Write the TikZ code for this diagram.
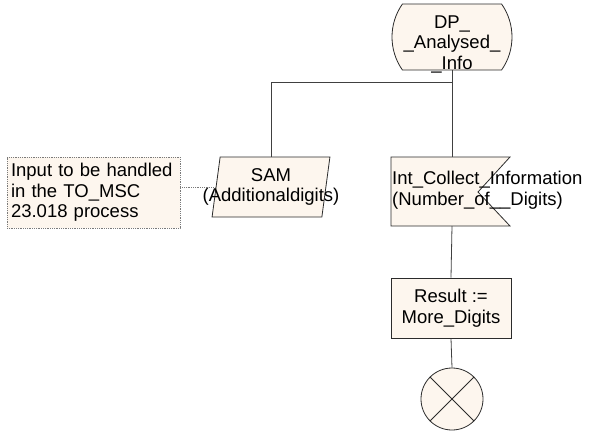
\documentclass[tikz,border=0pt]{standalone}
\usepackage{fontspec}
\setmainfont{Liberation Sans}
\usetikzlibrary{positioning,shapes.geometric,shapes.misc,calc}
\definecolor{cream}{HTML}{FDF6EE}
\definecolor{ink}{HTML}{2B2B2B}
\definecolor{wire}{HTML}{404040}
\definecolor{muted}{HTML}{7A7A7A}
\tikzset{
  sdltext/.style={font=\fontsize{18.5}{20.5}\selectfont,align=center,inner sep=0pt},
  statebox/.style={rounded rectangle,rounded rectangle arc length=70,draw=ink,line width=0.8pt,fill=cream,minimum width=120pt,minimum height=66pt,inner sep=0pt},
  inputbox/.style={trapezium,trapezium left angle=78,trapezium right angle=102,trapezium stretches=true,draw=ink,line width=0.8pt,fill=cream,minimum width=118pt,minimum height=60pt,inner sep=0pt,text width=100pt,sdltext},
  sigshape/.style={draw=ink,line width=0.8pt,fill=cream},
  taskbox/.style={rectangle,draw=ink,line width=0.8pt,fill=cream,minimum width=120pt,minimum height=60pt,inner sep=0pt,sdltext},
  notebox/.style={rectangle,draw=muted,densely dotted,line width=0.8pt,fill=cream,minimum width=173pt,minimum height=71pt,inner xsep=4pt,text width=165pt,font=\fontsize{18.5}{20.5}\selectfont,align=left},
  stopbox/.style={circle,draw=ink,line width=0.8pt,fill=cream,minimum size=62pt,inner sep=0pt},
  wire/.style={draw=wire,line width=0.8pt},
  noteline/.style={draw=muted,densely dotted,line width=0.8pt}
}
\begin{document}
\begin{tikzpicture}[x=1pt,y=-1pt]
  \useasboundingbox (0,0) rectangle (590,432);
  % state
  \node[statebox] (state) at (452,37) {};
  \node[sdltext] (statelbl) at (452,44) {DP\_\\\_Analysed\_\\\_Info};
  \coordinate (fork) at (452,82);
  % inputs
  \node[inputbox] (sam) at (271,187) {SAM\\\makebox[100pt]{(Additionaldigits)}};
  \draw[sigshape] (391,157) -- (510,157) -- (478,192) -- (510,226) -- (391,226) -- cycle;
  \node[sdltext,align=left,anchor=west] (sig) at (392,190) {Int\_Collect\_Information\\(Number\_of\_\_Digits)};
  \coordinate (sigin) at (452,157);
  \coordinate (sigout) at (452,226);
  \node[notebox] (note) at (93.5,192.5) {Input to be handled\\in the TO\_MSC\\23.018 process};
  % task and stop
  \node[taskbox] (task) at (451,308) {Result :=\\More\_Digits};
  \node[stopbox] (stop) at (452,399) {};
  \draw[ink,line width=0.8pt] (stop.north west) -- (stop.south east);
  \draw[ink,line width=0.8pt] (stop.north east) -- (stop.south west);
  % connections
  \draw[wire] (state.south) -- (sigin);
  \draw[wire] (sam.north) |- (fork);
  \draw[wire] (sigout) -- (task.north);
  \draw[wire] (task.south) -- (stop.north);
  \draw[noteline] (note.east |- sam.west) -- (sam.west);
\end{tikzpicture}
\end{document}
